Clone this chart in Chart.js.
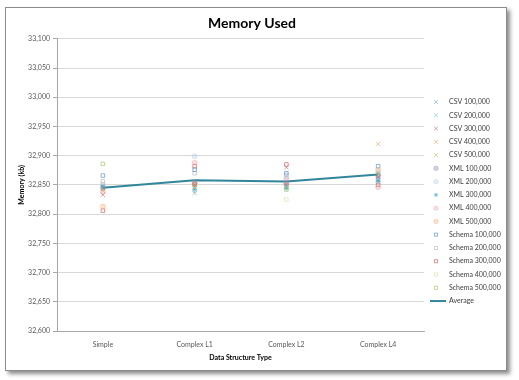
<!DOCTYPE html>
<html>
<head>
<meta charset="utf-8">
<script src="https://cdn.jsdelivr.net/npm/chart.js@4.4.1/dist/chart.umd.min.js"></script>
<style>
  body { margin: 0; background: #fff; }
  #frame {
    position: absolute; left: 5px; top: 7px; width: 500px; height: 362px;
    border: 1px solid #8c8c8c; background: #fff;
    box-shadow: 3px 3px 4px rgba(0,0,0,0.45);
  }
  #frame canvas { display: block; }
</style>
</head>
<body>
<div id="frame"><canvas id="myChart" width="500" height="362"></canvas></div>
<script>
// categories on the x axis
var categories = ['Simple', 'Complex L1', 'Complex L2', 'Complex L4'];

// memory used (kb)
var csv100 = [32845, 32836, 32850, 32858];
var csv200 = [32848, 32845, 32848, 32860];
var csv300 = [32833, 32850, 32880, 32863];
var csv400 = [32840, 32847, 32852, 32920];
var csv500 = [32843, 32848, 32846, 32870];
var xml100 = [32845, 32852, 32853, 32866];
var xml200 = [32850, 32899, 32862, 32872];
var xml300 = [32847, 32842, 32844, 32856];
var xml400 = [32838, 32888, 32860, 32846];
var xml500 = [32813, 32853, 32849, 32876];
var schema100 = [32866, 32876, 32870, 32882];
var schema200 = [32856, 32870, 32867, 32860];
var schema300 = [32806, 32882, 32885, 32850];
var schema400 = [32852, 32840, 32825, 32854];
var schema500 = [32886, 32851, 32842, 32868];
var average = [32845, 32858, 32856, 32868];

var yMin = 32600;
var yMax = 33100;
var yStep = 50;

var fontFamily = 'Lato, "Liberation Sans", sans-serif';

function scatter(label, data, style, color) {
    return {
        label: label,
        data: data,
        showLine: false,
        pointStyle: style,
        pointRadius: style === 'crossRot' ? 3 : 2.5,
        pointBorderWidth: 1,
        borderColor: color,
        backgroundColor: style === 'circle' ? color : 'rgba(255,255,255,0)',
        pointBackgroundColor: style === 'circle' ? color : 'rgba(255,255,255,0)',
        pointBorderColor: color
    };
}

var datasets = [
    scatter('CSV 100,000', csv100, 'crossRot', 'rgba(79,129,189,0.45)'),
    scatter('CSV 200,000', csv200, 'crossRot', 'rgba(75,172,198,0.45)'),
    scatter('CSV 300,000', csv300, 'crossRot', 'rgba(192,80,77,0.5)'),
    scatter('CSV 400,000', csv400, 'crossRot', 'rgba(247,150,70,0.55)'),
    scatter('CSV 500,000', csv500, 'crossRot', 'rgba(155,187,89,0.55)'),
    scatter('XML 100,000', xml100, 'circle', 'rgba(128,100,162,0.3)'),
    scatter('XML 200,000', xml200, 'circle', 'rgba(180,200,225,0.35)'),
    scatter('XML 300,000', xml300, 'star', 'rgba(75,172,198,0.6)'),
    scatter('XML 400,000', xml400, 'circle', 'rgba(230,150,160,0.3)'),
    scatter('XML 500,000', xml500, 'circle', 'rgba(247,170,110,0.35)'),
    scatter('Schema 100,000', schema100, 'rect', 'rgba(79,129,189,0.6)'),
    scatter('Schema 200,000', schema200, 'rect', 'rgba(150,150,160,0.45)'),
    scatter('Schema 300,000', schema300, 'rect', 'rgba(192,80,77,0.6)'),
    scatter('Schema 400,000', schema400, 'rect', 'rgba(215,215,160,0.5)'),
    scatter('Schema 500,000', schema500, 'rect', 'rgba(155,187,89,0.6)'),
    {
        label: 'Average',
        data: average,
        borderColor: '#31859c',
        backgroundColor: '#31859c',
        borderWidth: 2,
        pointRadius: 0,
        pointStyle: 'line',
        tension: 0
    }
];

// Legend drawn by hand so the marker/text spacing matches Excel's
var sideLegend = {
    id: 'sideLegend',
    afterDraw: function(chart) {
        var c = chart.ctx;
        var markX = 430, textX = 443, y = 94, step = 13.27;
        c.save();
        c.font = '7px ' + fontFamily;
        c.textBaseline = 'middle';
        chart.data.datasets.forEach(function(ds) {
            if (ds.pointStyle === 'line') {
                c.strokeStyle = ds.borderColor;
                c.lineWidth = 2;
                c.beginPath();
                c.moveTo(424, y);
                c.lineTo(440, y);
                c.stroke();
            } else {
                c.strokeStyle = ds.pointBorderColor;
                c.fillStyle = ds.pointBackgroundColor;
                c.lineWidth = 1;
                Chart.helpers.drawPoint(c, {
                    pointStyle: ds.pointStyle,
                    radius: ds.pointRadius - 0.3,
                    borderWidth: 1,
                    rotation: 0
                }, markX, y);
            }
            c.fillStyle = '#404040';
            c.fillText(ds.label, textX, y);
            y += step;
        });
        c.restore();
    }
};

var ctx = document.getElementById('myChart').getContext('2d');
var myChart = new Chart(ctx, {
    type: 'line',
    data: { labels: categories, datasets: datasets },
    plugins: [sideLegend],
    options: {
        responsive: false,
        animation: false,
        layout: { padding: { left: 4, right: 12, top: 0, bottom: 4 } },
        font: { family: fontFamily },
        plugins: {
            title: {
                display: true,
                text: 'Memory Used',
                color: '#000',
                font: { family: fontFamily, size: 14, weight: 'bold' },
                padding: { top: 7, bottom: 7 }
            },
            legend: { display: false },
            tooltip: { enabled: false }
        },
        scales: {
            x: {
                offset: true,
                grid: { display: false },
                border: { color: '#a6a6a6' },
                ticks: { color: '#595959', font: { size: 7 }, padding: 2 },
                title: {
                    display: true, text: 'Data Structure Type', color: '#000',
                    font: { size: 7, weight: 'bold' }, padding: { top: 2, bottom: 4 }
                },
                afterFit: function(scale) { scale.height = 35; }
            },
            y: {
                min: yMin,
                max: yMax,
                grid: { color: '#d9d9d9', tickLength: 4, tickColor: '#a6a6a6' },
                border: { color: '#a6a6a6' },
                ticks: {
                    stepSize: yStep,
                    color: '#595959',
                    font: { size: 7 },
                    padding: 3,
                    callback: function(v) { return v.toLocaleString('en-US'); }
                },
                title: {
                    display: true, text: 'Memory (kb)', color: '#000',
                    font: { size: 7, weight: 'bold' }, padding: { top: 8, bottom: 0 }
                },
                afterFit: function(scale) { scale.width = 47; }
            },
            // empty right-hand axis that reserves room for the legend
            legendSpace: {
                position: 'right',
                min: yMin,
                max: yMax,
                grid: { display: false },
                border: { display: false },
                ticks: { display: false },
                afterFit: function(scale) { scale.width = 70; }
            }
        }
    }
});
</script>
</body>
</html>
